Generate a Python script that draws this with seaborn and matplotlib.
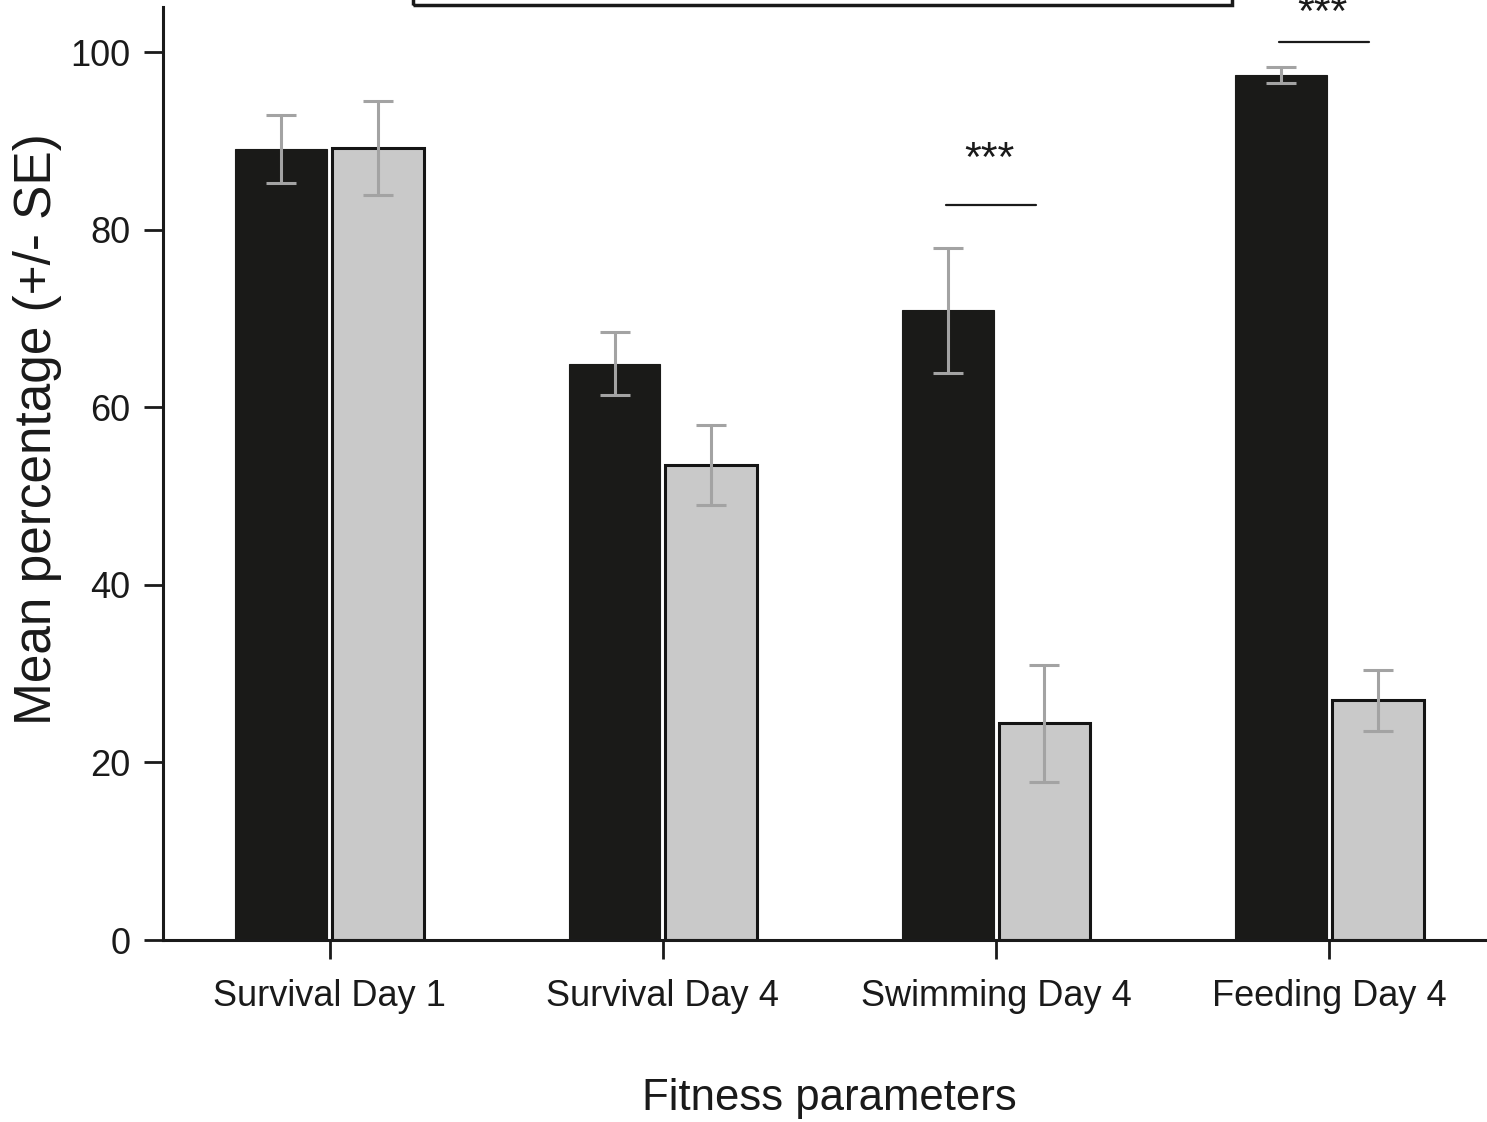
import numpy as np
import pandas as pd
import matplotlib
matplotlib.use("Agg")
import matplotlib.pyplot as plt
from matplotlib.patches import Rectangle
import seaborn as sns

# Fitness parameters (x categories)
categories = ["Survival Day 1", "Survival Day 4", "Swimming Day 4", "Feeding Day 4"]
groups = ["Group A", "Group B"]

# Mean percentages and standard errors per group
means_a = [89.1, 64.9, 70.9, 97.4]
se_a = [3.85, 3.55, 7.05, 0.9]
means_b = [89.2, 53.5, 24.4, 27.0]
se_b = [5.3, 4.5, 6.6, 3.45]

# Significance annotations: (category index, label)
sig_marks = [(2, "***"), (3, "***")]
sig_line_y = [82.8, 101.1]
sig_text_y = [86.6, 103.0]

yticks = [0, 20, 40, 60, 80, 100]

df = pd.DataFrame({
    "category": categories * 2,
    "group": [groups[0]] * 4 + [groups[1]] * 4,
    "value": means_a + means_b,
})

sns.set_style("ticks")
plt.rcParams["font.family"] = ["Liberation Sans", "DejaVu Sans"]

W, H = 1487, 1122
fig = plt.figure(figsize=(W / 100, H / 100), dpi=100)
fig.patch.set_facecolor("white")
ax_left, ax_bottom = 163 / W, (H - 940) / H
ax_top = (H - 7) / H
ax_right = 1496 / W
ax = fig.add_axes([ax_left, ax_bottom, ax_right - ax_left, ax_top - ax_bottom])

colors = {"Group A": "#1a1a18", "Group B": "#c9c9c9"}
sns.barplot(data=df, x="category", y="value", hue="group", palette=colors,
            order=categories, hue_order=groups, errorbar=None,
            width=0.58, gap=0.05, legend=False, ax=ax, zorder=2)

err_color = "#a3a3a3"
for cont, se, edge, lw in zip(ax.containers, [se_a, se_b], ["#1a1a18", "#141414"], [0.8, 2.2]):
    xs, ys = [], []
    for bar in cont:
        bar.set_edgecolor(edge)
        bar.set_linewidth(lw)
        xs.append(bar.get_x() + bar.get_width() / 2)
        ys.append(bar.get_height())
    ax.errorbar(xs, ys, yerr=se, fmt="none", ecolor=err_color,
                elinewidth=2.2, capsize=10.5, capthick=2.2, zorder=3)

# significance bars and stars
for (idx, label), ly, ty in zip(sig_marks, sig_line_y, sig_text_y):
    ax.plot([idx - 0.15, idx + 0.12], [ly, ly], color="#1a1a1a", lw=1.6,
            clip_on=False, zorder=4)
    ax.text(idx - 0.02, ty, label, ha="center", va="baseline", fontsize=31,
            color="#1a1a1a", clip_on=False)

ax.set_xlim(-0.5, 3.5)
ax.set_ylim(0, 105.07)
ax.set_yticks(yticks)
ax.set_yticklabels([str(t) for t in yticks])
ax.tick_params(axis="both", direction="out", length=14, width=2,
               labelsize=26, colors="#1a1a1a")
ax.tick_params(axis="y", pad=9.6)
ax.tick_params(axis="x", pad=14)
sns.despine(ax=ax)
for s in ("left", "bottom"):
    ax.spines[s].set_linewidth(2.2)
    ax.spines[s].set_color("#1a1a1a")

ax.set_xlabel("Fitness parameters", fontsize=31.5, labelpad=46, color="#1a1a1a")
ax.set_ylabel("Mean percentage (+/- SE)", fontsize=37, color="#1a1a1a")
ax.yaxis.set_label_coords(-(163 - 62) / (1496 - 163), 0.548)

# legend frame along the top edge
fig.add_artist(Rectangle((413 / W, 1 - 5 / H), (1232 - 413) / W, 0.2,
                         transform=fig.transFigure, fill=False,
                         edgecolor="#1a1a1a", lw=2.5))

fig.savefig("out.png", dpi=100, facecolor="white")
